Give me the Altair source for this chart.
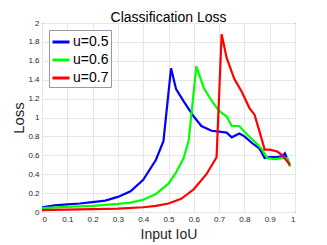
import altair as alt
import pandas as pd

x_blue = [0.0, 0.05, 0.1, 0.15, 0.2, 0.25, 0.3, 0.35, 0.4, 0.45, 0.48, 0.51, 0.53, 0.56, 0.6, 0.63, 0.67, 0.7, 0.73, 0.75, 0.78, 0.8, 0.83, 0.86, 0.88, 0.9, 0.93, 0.95, 0.96, 0.98]
y_blue = [0.05, 0.07, 0.08, 0.09, 0.105, 0.12, 0.16, 0.22, 0.34, 0.55, 0.75, 1.52, 1.30, 1.17, 1.01, 0.91, 0.86, 0.85, 0.84, 0.79, 0.83, 0.80, 0.73, 0.67, 0.57, 0.58, 0.58, 0.59, 0.62, 0.49]

x_green = [0.0, 0.1, 0.2, 0.3, 0.35, 0.4, 0.45, 0.5, 0.53, 0.56, 0.58, 0.61, 0.64, 0.67, 0.7, 0.73, 0.75, 0.78, 0.8, 0.83, 0.85, 0.87, 0.89, 0.92, 0.95, 0.97, 0.98]
y_green = [0.04, 0.055, 0.065, 0.085, 0.10, 0.13, 0.19, 0.30, 0.42, 0.57, 0.76, 1.54, 1.31, 1.18, 1.07, 1.01, 0.91, 0.91, 0.85, 0.77, 0.72, 0.66, 0.57, 0.56, 0.57, 0.57, 0.48]

x_red = [0.0, 0.1, 0.2, 0.3, 0.4, 0.45, 0.5, 0.55, 0.6, 0.65, 0.69, 0.71, 0.73, 0.76, 0.79, 0.82, 0.84, 0.86, 0.88, 0.9, 0.93, 0.95, 0.98]
y_red = [0.02, 0.025, 0.03, 0.035, 0.05, 0.065, 0.09, 0.14, 0.24, 0.40, 0.58, 1.88, 1.63, 1.41, 1.27, 1.10, 1.03, 0.85, 0.66, 0.66, 0.64, 0.60, 0.50]

series = ["u=0.5", "u=0.6", "u=0.7"]
colors = ["#0000FF", "#00FF00", "#FF0000"]

rows = []
for name, xs, ys in zip(series, [x_blue, x_green, x_red], [y_blue, y_green, y_red]):
    for i, (a, b) in enumerate(zip(xs, ys)):
        rows.append({"iou": a, "loss": b, "series": name, "order": i})
df = pd.DataFrame(rows)

font = "Liberation Sans"

chart = alt.Chart(df).mark_line(strokeWidth=2.2, clip=True).encode(
    x=alt.X("iou:Q", title="Input IoU",
            scale=alt.Scale(domain=[0, 1], nice=False, zero=False),
            axis=alt.Axis(values=[i / 10 for i in range(11)], format="~g",
                          labelFontSize=8, titleFontSize=14, titleFontWeight="normal",
                          labelPadding=3, titlePadding=4, ticks=False, domain=False,
                          gridColor="#e6e6e6", labelColor="#262626", titleColor="#262626")),
    y=alt.Y("loss:Q", title="Loss",
            scale=alt.Scale(domain=[0, 2], nice=False),
            axis=alt.Axis(values=[i / 5 for i in range(11)], format="~g",
                          labelFontSize=8, titleFontSize=15, titleFontWeight="normal",
                          labelPadding=3, titlePadding=1, ticks=False, domain=False,
                          gridColor="#e6e6e6", labelColor="#262626", titleColor="#262626")),
    color=alt.Color("series:N", title=None,
                    scale=alt.Scale(domain=series, range=colors),
                    legend=alt.Legend(orient="top-left", offset=7, symbolType="stroke",
                                      symbolStrokeWidth=3, symbolSize=289,
                                      labelFontSize=14, labelColor="#000000",
                                      strokeColor="#999999", fillColor="white",
                                      padding=2, rowPadding=1, labelOffset=2)),
    order="order:Q",
).properties(
    width=253, height=189,
    title=alt.Title("Classification Loss", fontSize=14, fontWeight="normal", offset=-6, color="#000000"),
    autosize=alt.AutoSizeParams(type="none"),
    padding={"left": 34, "top": 15, "right": 20, "bottom": 30},
).configure(font=font).configure_view(stroke="#262626", strokeWidth=1)

chart.save("out.html", embed_options={"renderer": "svg", "actions": False})
